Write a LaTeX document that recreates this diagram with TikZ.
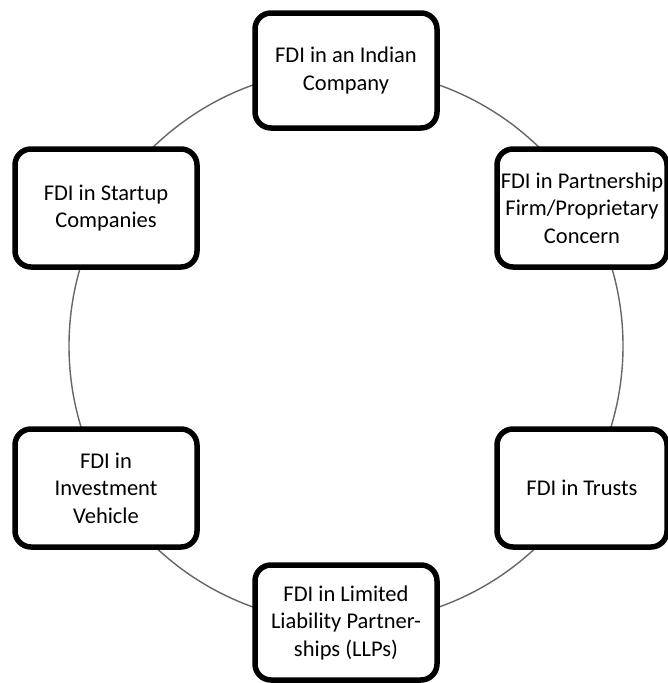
\documentclass[tikz,border=0pt]{standalone}
\usepackage{fontspec}
\setmainfont{Carlito}
\begin{document}
\begin{tikzpicture}[x=1pt,y=-1pt,
  entity/.style={draw=black, line width=5.5pt, rounded corners=16pt, fill=white,
    minimum width=#1, minimum height=118pt, align=center, inner sep=2pt,
    font=\fontsize{22.5}{27.5}\selectfont, text=black},
  entity/.default=182pt,
  ring/.style={draw=black!60, line width=1.4pt}]
\useasboundingbox (0,0) rectangle (668,683);
% ring joining the six forms of investment
\coordinate (hub) at (346,346);
\draw[ring] (hub) circle[radius=277pt];
% the six boxes placed around the ring
\node[entity, minimum height=115pt] (company) at (346,70.5) {FDI in an Indian\\Company};
\node[entity=170pt] (firm) at (582,208) {FDI in Partnership\\Firm/Proprietary\\Concern};
\node[entity=170pt] (trusts) at (582,488) {FDI in Trusts};
\node[entity, minimum height=115pt] (llp) at (346,622.5) {FDI in Limited\\Liability Partner-\\ships (LLPs)};
\node[entity] (vehicle) at (106,488) {FDI in\\Investment\\Vehicle};
\node[entity] (startup) at (106,208) {FDI in Startup\\Companies};
\end{tikzpicture}
\end{document}
